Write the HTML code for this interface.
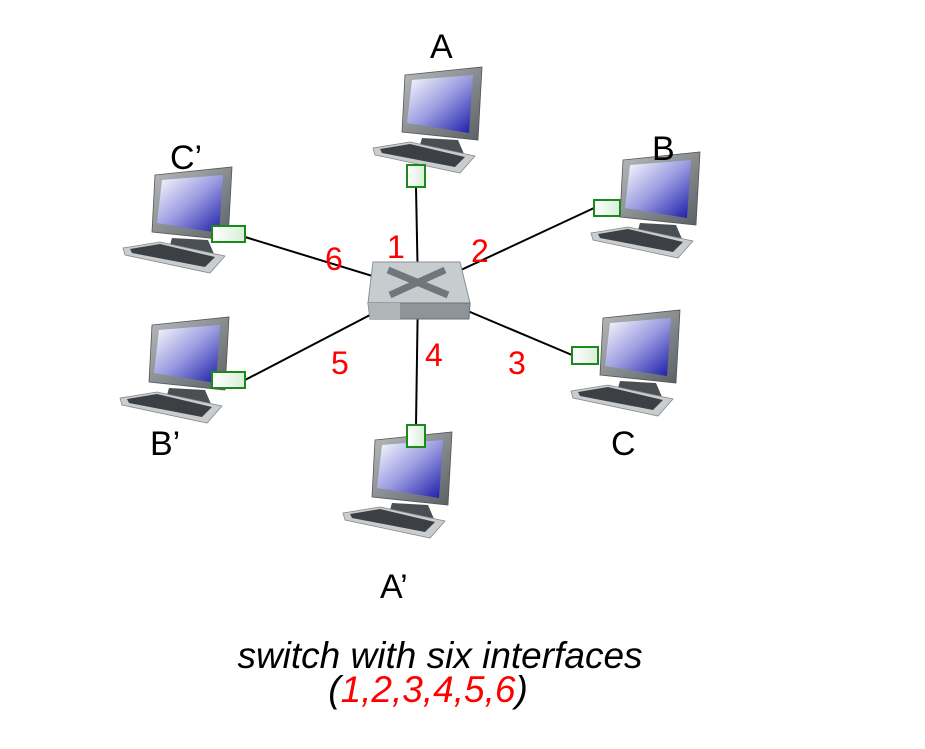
<!DOCTYPE html>
<html><head><style>
body{margin:0;background:#fff;width:925px;height:749px;overflow:hidden}
svg{display:block}
text{font-family:"Liberation Sans",sans-serif}
</style></head><body>
<svg width="925" height="749" viewBox="0 0 925 749">
<defs>
<linearGradient id="scr" x1="0" y1="0" x2="1" y2="1">
<stop offset="0" stop-color="#ffffff"/><stop offset="0.5" stop-color="#9a9be0"/><stop offset="1" stop-color="#1a1aa8"/>
</linearGradient>
<linearGradient id="frm" x1="0" y1="0" x2="1" y2="1">
<stop offset="0" stop-color="#b8bcbf"/><stop offset="1" stop-color="#5a5f63"/>
</linearGradient>
<linearGradient id="grn" x1="0" y1="0" x2="1" y2="0">
<stop offset="0" stop-color="#fff"/><stop offset="1" stop-color="#d8efd8"/>
</linearGradient>
<g id="pc">
<polygon points="62,78 98,80 104,94 58,92" fill="#4a4f53"/>
<polygon points="45,15 122,7 118,80 42,72" fill="url(#frm)" stroke="#555" stroke-width="0.8"/>
<polygon points="52,20 113,15 109,73 47,63" fill="url(#scr)"/>
<polygon points="13,88 50,82 115,96 100,113 15,95" fill="#c9cdd0" stroke="#888" stroke-width="0.8"/>
<polygon points="20,89 50,84 105,97 95,107 22,93" fill="#3c4044"/>
</g>
</defs>
<g stroke="#000" stroke-width="2">
<line x1="418" y1="290" x2="416" y2="187"/>
<line x1="418" y1="290" x2="594" y2="208"/>
<line x1="418" y1="290" x2="572" y2="355"/>
<line x1="418" y1="290" x2="416" y2="425"/>
<line x1="418" y1="290" x2="245" y2="380"/>
<line x1="418" y1="290" x2="245" y2="237"/>
</g>
<use href="#pc" x="360" y="60"/>
<use href="#pc" x="578" y="145"/>
<use href="#pc" x="558" y="303"/>
<use href="#pc" x="330" y="425"/>
<use href="#pc" x="107" y="310"/>
<use href="#pc" x="110" y="160"/>
<g fill="url(#grn)" stroke="#1a8a1a" stroke-width="2">
<rect x="407" y="165" width="18" height="22"/>
<rect x="594" y="200" width="26" height="16"/>
<rect x="572" y="347" width="26" height="17"/>
<rect x="407" y="425" width="18" height="22"/>
<rect x="212" y="372" width="33" height="16"/>
<rect x="212" y="226" width="33" height="16"/>
</g>
<polygon points="373,262 460,262 470,303 368,303" fill="#c7cccf" stroke="#8a9094" stroke-width="1"/>
<polygon points="368,303 470,303 469,319 370,319" fill="#8e9599" stroke="#6a7074" stroke-width="1"/>
<polygon points="368,303 400,303 400,319 370,319" fill="#b0b5b8"/>
<g stroke="#70767b" stroke-width="7">
<line x1="388" y1="270" x2="448" y2="295"/>
<line x1="445" y1="270" x2="390" y2="295"/>
</g>
<g fill="#f00" font-size="32">
<text x="387" y="258">1</text>
<text x="471" y="262">2</text>
<text x="508" y="374">3</text>
<text x="425" y="366">4</text>
<text x="331" y="374">5</text>
<text x="325" y="270">6</text>
</g>
<g fill="#000" font-size="34">
<text x="430" y="58">A</text>
<text x="652" y="160">B</text>
<text x="611" y="455">C</text>
<text x="380" y="598">A’</text>
<text x="150" y="455">B’</text>
<text x="170" y="169">C’</text>
</g>
<g font-size="37" font-style="italic" text-anchor="middle">
<text x="440" y="668">switch with six interfaces</text>
<text x="428" y="702">(<tspan fill="#f00">1,2,3,4,5,6</tspan>)</text>
</g>
</svg>
</body></html>
